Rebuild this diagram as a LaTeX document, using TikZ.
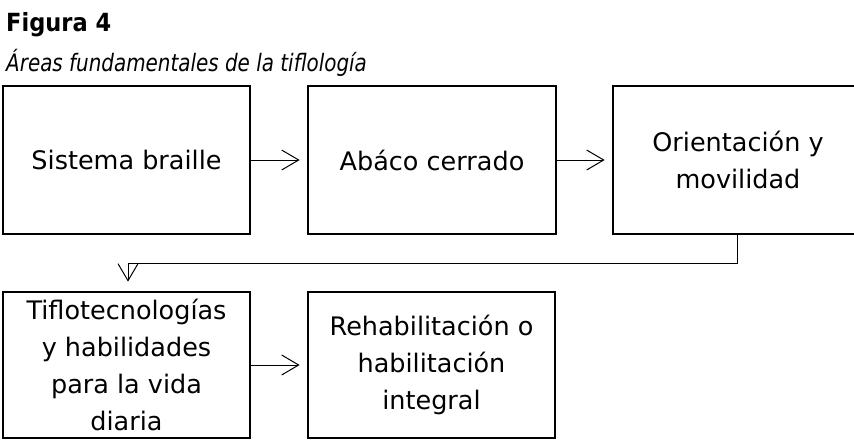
\documentclass[tikz,border=0pt]{standalone}
\usepackage{fontspec}
\setmainfont{DejaVu Sans}
\newfontfamily\subfam[FakeStretch=0.83]{DejaVu Sans}
\newfontfamily\titfam[FakeStretch=0.9]{DejaVu Sans}
\usetikzlibrary{arrows.meta,calc}
\tikzset{
  box/.style={draw=black, line width=2.7pt, inner sep=0pt, align=center,
    font=\fontsize{25.5}{37}\selectfont},
  arr/.style={draw=black, line width=1pt, -{Straight Barb[length=17pt,width=20pt,line width=1pt]}},
  titlefont/.style={font=\titfam\fontsize{25}{28}\selectfont\bfseries, anchor=base west, inner sep=0pt},
  subfont/.style={font=\subfam\fontsize{24}{28}\selectfont\itshape, anchor=base west, inner sep=0pt}
}
\begin{document}
\begin{tikzpicture}[x=1pt,y=-1pt]
\useasboundingbox (0,0) rectangle (854,440);
\clip (0,0) rectangle (854,440);
\node[titlefont] (t1) at (6,31) {Figura 4};
\node[subfont] (t2) at (6,71) {Áreas fundamentales de la tiflología};
\node[box, minimum width=247pt, minimum height=148pt] (b1) at (126.5,160) {Sistema braille};
\node[box, minimum width=248pt, minimum height=148pt] (b2) at (432,160) {Abáco cerrado};
\node[box, minimum width=250pt, minimum height=148pt] (b3) at (738,160) {Orientación y\\movilidad};
\node[box, minimum width=247pt, minimum height=146pt] (b4) at (126.5,365) {Tiflotecnologías\\y habilidades\\para la vida\\diaria};
\node[box, minimum width=247pt, minimum height=146pt] (b5) at (431.5,365) {Rehabilitación o\\habilitación\\integral};
\coordinate (c1) at (737,263);
\coordinate (c2) at (128,263);
\draw[arr, shorten >=7pt] (b1.east) -- (b2.west);
\draw[arr, shorten >=7pt] (b2.east) -- (b3.west);
\draw[arr, shorten >=9pt] (b3.south -| c1) -- (c1) -- (c2) -- (b4.north -| c2);
\draw[arr, shorten >=7pt] (b4.east) -- (b5.west);
\end{tikzpicture}
\end{document}
